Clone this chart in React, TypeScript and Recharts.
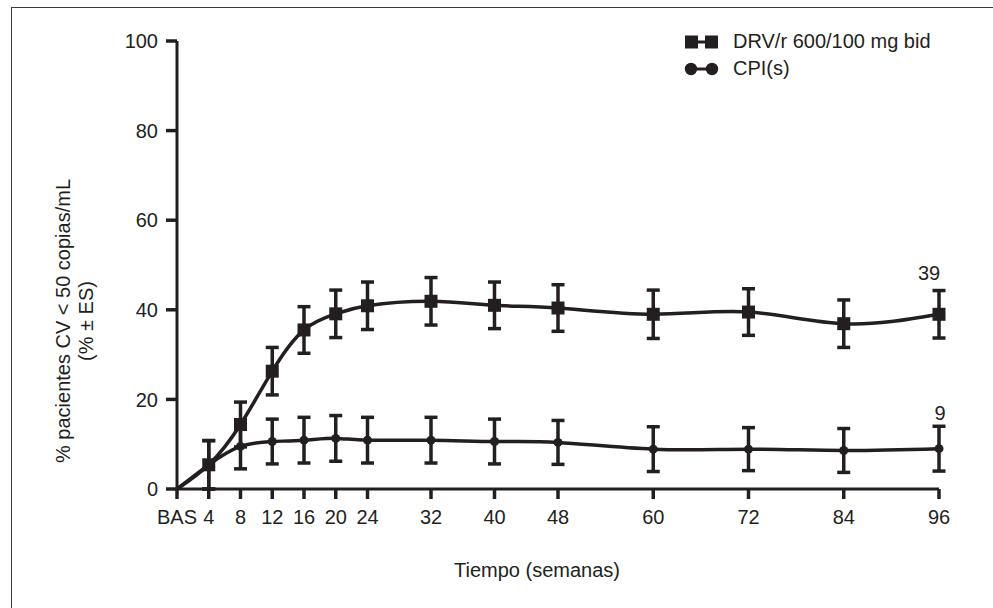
import React from "react";
import { LineChart, Line, XAxis, YAxis, ErrorBar, Legend, LabelList } from "recharts";

// weeks on study (0 = baseline)
const weeks = [0, 4, 8, 12, 16, 20, 24, 32, 40, 48, 60, 72, 84, 96];

// % patients with VL < 50 copies/mL and standard error
const drvPct = [0, 5.4, 14.4, 26.3, 35.5, 39.1, 40.9, 41.9, 41.0, 40.4, 39.0, 39.5, 36.9, 39];
const drvSe = [0, 5.4, 5.0, 5.3, 5.2, 5.3, 5.3, 5.3, 5.2, 5.2, 5.4, 5.2, 5.3, 5.3];
const cpiPct = [0, 5.4, 9.5, 10.6, 10.9, 11.3, 10.9, 10.9, 10.6, 10.4, 8.9, 8.9, 8.6, 9];
const cpiSe = [0, 5.4, 5.0, 5.0, 5.1, 5.1, 5.1, 5.1, 5.0, 4.9, 5.0, 4.8, 4.9, 5.0];

const yTicks = [0, 20, 40, 60, 80, 100];

const drvName = "DRV/r 600/100 mg bid";
const cpiName = "CPI(s)";

const INK = "#231f20";
const FONT = "'Liberation Sans', Arial, Helvetica, sans-serif";

const data = weeks.map((week, i) => ({
  week,
  drv: drvPct[i],
  drvSe: drvSe[i],
  cpi: cpiPct[i],
  cpiSe: cpiSe[i],
}));

const lastIndex = weeks.length - 1;

function SquareDot(props: any) {
  const { cx, cy, index } = props;
  if (index === 0 || cx == null) return <g key={`sq-${index}`} />;
  return <rect key={`sq-${index}`} x={cx - 6.5} y={cy - 6.5} width={13} height={13} fill={INK} />;
}

function RoundDot(props: any) {
  const { cx, cy, index } = props;
  if (index === 0 || cx == null) return <g key={`ci-${index}`} />;
  return <circle key={`ci-${index}`} cx={cx} cy={cy} r={4.5} fill={INK} />;
}

// value printed above the last point of a series
const endLabel = (dx: number, dy: number) => (props: any) => {
  const { x, y, value, index } = props;
  if (index !== lastIndex) return null;
  return (
    <text
      x={x + dx}
      y={y + dy}
      textAnchor="middle"
      dominantBaseline="central"
      fill={INK}
      fontSize={20}
      fontFamily={FONT}
    >
      {value}
    </text>
  );
};

function YTitle(props: any) {
  const { viewBox } = props;
  const cy = viewBox.y + viewBox.height / 2 + 56;
  const x1 = viewBox.x - 54;
  const x2 = viewBox.x - 31;
  return (
    <g fill={INK} fontSize={20} fontFamily={FONT}>
      <text x={x1} y={cy} transform={`rotate(-90 ${x1} ${cy})`} textAnchor="middle" dominantBaseline="central">
        % pacientes CV &lt; 50 copias/mL
      </text>
      <text x={x2} y={cy} transform={`rotate(-90 ${x2} ${cy})`} textAnchor="middle" dominantBaseline="central">
        (% ± ES)
      </text>
    </g>
  );
}

function XTitle(props: any) {
  const { viewBox } = props;
  const cx = viewBox.x + viewBox.width / 2 - 21;
  return (
    <text x={cx} y={570} textAnchor="middle" dominantBaseline="central" fill={INK} fontSize={20} fontFamily={FONT}>
      Tiempo (semanas)
    </text>
  );
}

function LegendBox() {
  const row = { display: "flex", alignItems: "center", height: 27 } as const;
  return (
    <div style={{ fontFamily: FONT, fontSize: 20, color: INK, textAlign: "left" }}>
      <div style={row}>
        <svg width={50} height={16}>
          <line x1={8} y1={8} x2={28} y2={8} stroke={INK} strokeWidth={3} />
          <rect x={2} y={1.5} width={13} height={13} fill={INK} />
          <rect x={22} y={1.5} width={13} height={13} fill={INK} />
        </svg>
        <span>{drvName}</span>
      </div>
      <div style={row}>
        <svg width={50} height={16}>
          <line x1={8} y1={8} x2={28} y2={8} stroke={INK} strokeWidth={3} />
          <circle cx={8} cy={8} r={6.2} fill={INK} />
          <circle cx={29} cy={8} r={6.2} fill={INK} />
        </svg>
        <span>{cpiName}</span>
      </div>
    </div>
  );
}

export default function App() {
  return (
    <div
      style={{
        position: "absolute",
        left: 0,
        top: 0,
        width: 993,
        height: 608,
        overflow: "hidden",
        background: "#fff",
      }}
    >
      <div
        style={{
          position: "absolute",
          left: 11,
          top: 7,
          width: 1000,
          height: 620,
          border: "1.5px solid #3a3a3a",
        }}
      />
      <LineChart
        width={993}
        height={608}
        data={data}
        margin={{ top: 41, right: 54, bottom: 79, left: 117 }}
        style={{ position: "absolute", left: 0, top: 0 }}
      >
        <XAxis
          type="number"
          dataKey="week"
          domain={[0, 96]}
          ticks={weeks}
          interval={0}
          tickFormatter={(w: number) => (w === 0 ? "BAS" : String(w))}
          height={40}
          tickSize={10}
          tickMargin={11}
          axisLine={{ stroke: INK, strokeWidth: 3 }}
          tickLine={{ stroke: INK, strokeWidth: 3.5 }}
          tick={{ fill: INK, fontSize: 20, fontFamily: FONT }}
          label={{ content: XTitle }}
        />
        <YAxis
          type="number"
          domain={[0, 100]}
          ticks={yTicks}
          interval={0}
          width={60}
          tickSize={11}
          tickMargin={8}
          axisLine={{ stroke: INK, strokeWidth: 3 }}
          tickLine={{ stroke: INK, strokeWidth: 3.5 }}
          tick={{ fill: INK, fontSize: 20, fontFamily: FONT }}
          label={{ content: YTitle }}
        />
        {/* middle/center alignment keeps the legend from reserving plot space */}
        <Legend
          verticalAlign="middle"
          align="center"
          layout="horizontal"
          content={() => <LegendBox />}
          wrapperStyle={{ top: 28, left: 683, width: 300 }}
        />
        <Line
          type="natural"
          dataKey="cpi"
          name={cpiName}
          stroke={INK}
          strokeWidth={3.5}
          dot={RoundDot}
          activeDot={false}
          isAnimationActive={false}
        >
          <ErrorBar dataKey="cpiSe" direction="y" width={6.5} stroke={INK} strokeWidth={3.5} isAnimationActive={false} />
          <LabelList dataKey="cpi" content={endLabel(1, -36)} />
        </Line>
        <Line
          type="natural"
          dataKey="drv"
          name={drvName}
          stroke={INK}
          strokeWidth={3.5}
          dot={SquareDot}
          activeDot={false}
          isAnimationActive={false}
        >
          <ErrorBar dataKey="drvSe" direction="y" width={6.5} stroke={INK} strokeWidth={3.5} isAnimationActive={false} />
          <LabelList dataKey="drv" content={endLabel(-10, -41)} />
        </Line>
      </LineChart>
    </div>
  );
}
